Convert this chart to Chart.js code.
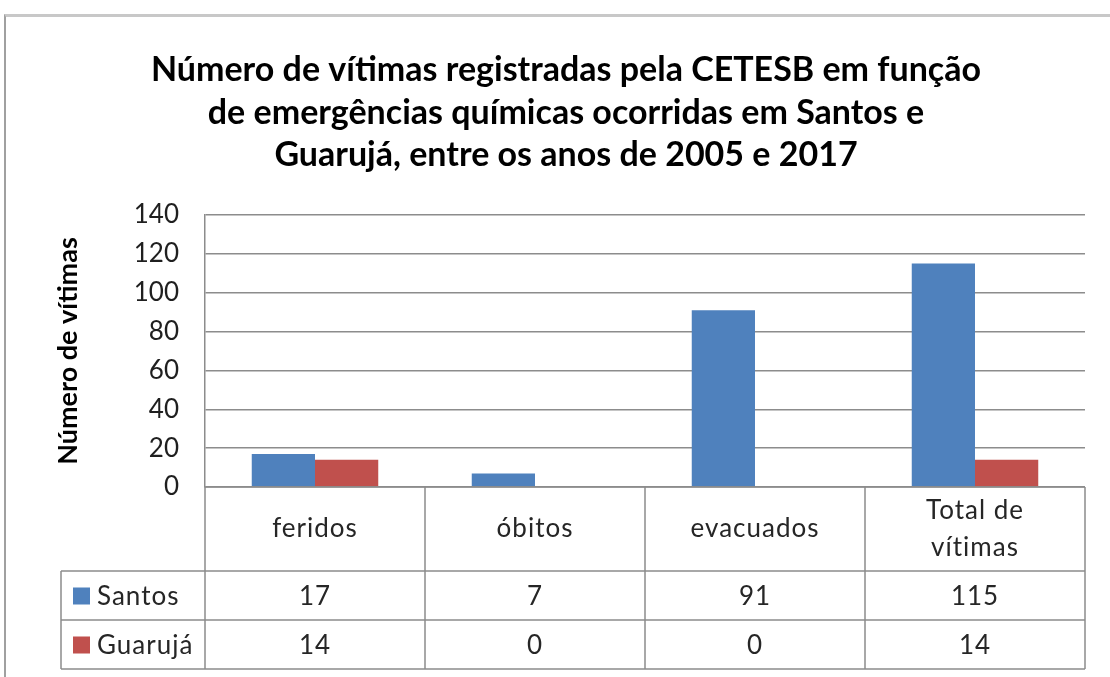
<!DOCTYPE html>
<html>
<head>
<meta charset="utf-8">
<script src="https://cdn.jsdelivr.net/npm/chart.js@4.4.0/dist/chart.umd.min.js"></script>
<style>
  html, body { margin: 0; padding: 0; background: #fff; }
  #wrap { position: relative; width: 1110px; height: 677px; overflow: hidden; }
  #frame { position: absolute; left: 4px; top: 14px; right: -10px; bottom: -10px;
           border-left: 2px solid #a0a0a0; border-top: 3px solid #c8c8c8; }
  canvas { position: absolute; left: 0; top: 0; }
</style>
</head>
<body>
<div id="wrap">
  <div id="frame"></div>
  <canvas id="chart" width="1110" height="677"></canvas>
</div>
<script>
// chart data
const categories = ['feridos', 'óbitos', 'evacuados', 'Total de vítimas'];
const categoryLines = [['feridos'], ['óbitos'], ['evacuados'], ['Total de', 'vítimas']];
const seriesNames = ['Santos', 'Guarujá'];
const santos = [17, 7, 91, 115];
const guaruja = [14, 0, 0, 14];
const yMax = 140;
const yStep = 20;

const titleLines = [
  'Número de vítimas registradas pela CETESB em função',
  'de emergências químicas ocorridas em Santos e',
  'Guarujá, entre os anos de 2005 e 2017'
];
const yTitle = 'Número de vítimas';

const BLUE = '#4F81BD';
const RED = '#C0504D';
const LINE = '#8c8c8c';
const FONT = 'Lato';

// draws the Excel-like data table under the plot area
const dataTablePlugin = {
  id: 'dataTable',
  afterDraw(chart) {
    const { ctx, chartArea } = chart;
    const left = chartArea.left, right = chartArea.right;
    const top = chartArea.bottom;
    const catH = 84, rowH = 49;
    const legendLeft = 61;
    const colW = (right - left) / categories.length;
    const rows = [santos, guaruja];
    const colors = [BLUE, RED];
    const bottom = top + catH + rowH * rows.length;

    ctx.save();
    ctx.strokeStyle = LINE;
    ctx.lineWidth = 1.5;
    ctx.beginPath();
    // horizontal lines
    ctx.moveTo(left, top); ctx.lineTo(right, top);
    for (let r = 0; r <= rows.length; r++) {
      const y = top + catH + r * rowH;
      ctx.moveTo(legendLeft, y); ctx.lineTo(right, y);
    }
    // vertical lines
    for (let c = 0; c <= categories.length; c++) {
      const x = left + c * colW;
      ctx.moveTo(x, top); ctx.lineTo(x, bottom);
    }
    ctx.moveTo(legendLeft, top + catH); ctx.lineTo(legendLeft, bottom);
    ctx.stroke();

    ctx.fillStyle = '#262626';
    ctx.font = '26px ' + FONT;
    ctx.letterSpacing = '1px';
    ctx.textAlign = 'center';
    ctx.textBaseline = 'middle';
    // category labels
    categoryLines.forEach((lines, i) => {
      const cx = chart.scales.x.getPixelForValue(i);
      const lh = 37;
      const y0 = top + catH / 2 - (lines.length - 1) * lh / 2;
      lines.forEach((t, k) => ctx.fillText(t, cx, y0 + k * lh));
    });
    // values
    rows.forEach((vals, r) => {
      const cy = top + catH + r * rowH + rowH / 2 + 1;
      vals.forEach((v, i) => {
        ctx.fillText(String(v), chart.scales.x.getPixelForValue(i), cy);
      });
      // legend key
      ctx.fillStyle = colors[r];
      ctx.fillRect(legendLeft + 12, cy - 9, 17, 17);
      ctx.fillStyle = '#262626';
      ctx.textAlign = 'left';
      ctx.fillText(seriesNames[r], legendLeft + 36, cy);
      ctx.textAlign = 'center';
    });
    ctx.restore();
  }
};

new Chart(document.getElementById('chart'), {
  type: 'bar',
  data: {
    labels: categories,
    datasets: [
      { label: seriesNames[0], data: santos, backgroundColor: BLUE },
      { label: seriesNames[1], data: guaruja, backgroundColor: RED }
    ]
  },
  options: {
    responsive: false,
    animation: false,
    layout: { padding: { left: 47, right: 25, top: 0, bottom: 190 } },
    datasets: {
      bar: { categoryPercentage: 0.575, barPercentage: 1.0, borderWidth: 0 }
    },
    plugins: {
      legend: { display: false },
      tooltip: { enabled: false },
      title: {
        display: true,
        text: titleLines,
        color: '#000',
        font: { family: FONT, size: 34, weight: 'bold', lineHeight: 1.25 },
        padding: { top: 49, bottom: 38.5 }
      }
    },
    scales: {
      x: {
        display: false
      },
      y: {
        min: 0,
        max: yMax,
        afterFit(scale) { scale.width = 158; },
        ticks: {
          stepSize: yStep,
          padding: 26,
          color: '#1f1f1f',
          font: { family: FONT, size: 26 }
        },
        grid: { color: LINE, lineWidth: 1.5, drawTicks: false },
        border: { display: true, color: LINE, width: 1.5 },
        title: {
          display: true,
          text: yTitle,
          color: '#000',
          font: { family: FONT, size: 27, weight: 'bold' },
          padding: { top: 5, bottom: 0 }
        }
      }
    }
  },
  plugins: [dataTablePlugin]
});
</script>
</body>
</html>
